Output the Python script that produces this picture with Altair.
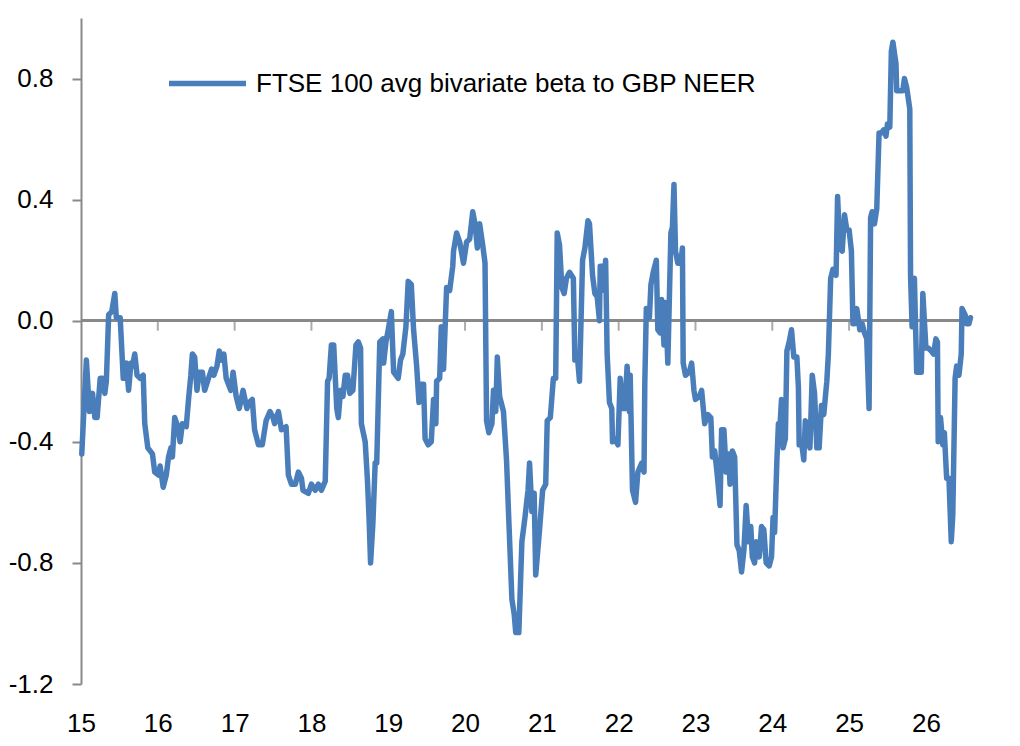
import altair as alt
import pandas as pd

# years since start of 2015 and beta values
t = [0.01,0.07,0.11,0.15,0.18,0.21,0.25,0.28,0.31,0.33,
     0.36,0.40,0.44,0.46,0.51,0.55,0.57,0.59,0.62,0.65,
     0.67,0.70,0.73,0.77,0.81,0.83,0.87,0.90,0.93,0.96,
     1.01,1.03,1.07,1.11,1.14,1.17,1.19,1.22,1.26,1.29,
     1.32,1.37,1.40,1.43,1.45,1.48,1.51,1.54,1.58,1.61,
     1.66,1.70,1.73,1.77,1.80,1.83,1.86,1.89,1.92,1.95,
     1.98,2.02,2.06,2.11,2.16,2.19,2.23,2.26,2.31,2.36,
     2.41,2.46,2.50,2.52,2.57,2.61,2.67,2.70,2.74,2.79,
     2.83,2.87,2.89,2.96,3.00,3.05,3.09,3.13,3.18,3.21,
     3.23,3.26,3.29,3.33,3.35,3.38,3.41,3.44,3.47,3.50,
     3.54,3.58,3.61,3.64,3.65,3.70,3.73,3.75,3.77,3.80,
     3.83,3.85,3.89,3.93,3.94,3.97,4.00,4.04,4.07,4.13,
     4.16,4.19,4.23,4.26,4.30,4.33,4.37,4.40,4.43,4.46,
     4.48,4.52,4.56,4.59,4.62,4.63,4.67,4.69,4.72,4.76,
     4.80,4.84,4.85,4.89,4.93,4.98,5.02,5.06,5.10,5.13,5.16,
     5.19,5.23,5.26,5.28,5.31,5.35,5.37,5.40,5.42,5.45,
     5.50,5.54,5.57,5.61,5.64,5.66,5.70,5.74,5.78,5.82,
     5.84,5.87,5.90,5.92,5.97,6.01,6.05,6.07,6.11,6.15,
     6.18,6.20,6.23,6.26,6.29,6.32,6.36,6.41,6.43,6.46,
     6.49,6.53,6.56,6.60,6.62,6.66,6.69,6.72,6.75,6.76,
     6.79,6.81,6.83,6.85,6.88,6.91,6.92,6.95,6.99,7.02,
     7.05,7.08,7.11,7.14,7.15,7.18,7.22,7.25,7.30,7.33,
     7.34,7.36,7.40,7.42,7.45,7.49,7.51,7.54,7.56,7.59,
     7.61,7.64,7.68,7.70,7.72,7.74,7.77,7.81,7.83,7.84,
     7.87,7.92,7.95,7.98,8.00,8.05,8.08,8.12,8.16,8.20,
     8.22,8.25,8.28,8.32,8.34,8.37,8.40,8.43,8.45,8.48,
     8.51,8.54,8.57,8.60,8.63,8.66,8.69,8.72,8.74,8.77,
     8.79,8.83,8.86,8.89,8.92,8.96,8.99,9.01,9.03,9.06,
     9.08,9.10,9.12,9.14,9.17,9.19,9.22,9.25,9.28,9.32,
     9.34,9.35,9.38,9.41,9.43,9.46,9.49,9.52,9.55,9.58,
     9.61,9.64,9.67,9.71,9.73,9.76,9.79,9.83,9.85,9.88,
     9.91,9.94,9.97,10.00,10.03,10.05,10.07,10.10,10.14,10.17,
     10.20,10.23,10.26,10.28,10.30,10.33,10.36,10.39,10.42,10.45,
     10.48,10.50,10.53,10.55,10.57,10.61,10.62,10.66,10.70,10.72,
     10.75,10.79,10.80,10.82,10.85,10.88,10.91,10.94,10.96,11.00,
     11.03,11.07,11.10,11.13,11.15,11.16,11.19,11.22,11.24,11.27,
     11.30,11.33,11.35,11.38,11.40,11.43,11.46,11.47,11.51,11.53,
     11.56,11.58]

beta = [-0.44,-0.13,-0.30,-0.24,-0.32,-0.32,-0.19,-0.19,-0.24,-0.20,
        0.02,0.03,0.09,0.01,0.01,-0.19,-0.19,-0.14,-0.23,-0.14,
        -0.15,-0.11,-0.18,-0.19,-0.18,-0.34,-0.42,-0.43,-0.44,-0.50,
        -0.51,-0.48,-0.55,-0.51,-0.45,-0.42,-0.45,-0.32,-0.35,-0.40,
        -0.34,-0.35,-0.26,-0.18,-0.11,-0.12,-0.23,-0.17,-0.17,-0.23,
        -0.19,-0.16,-0.18,-0.15,-0.10,-0.13,-0.11,-0.19,-0.21,-0.23,
        -0.17,-0.25,-0.29,-0.23,-0.29,-0.27,-0.26,-0.36,-0.41,-0.41,
        -0.33,-0.30,-0.32,-0.34,-0.30,-0.36,-0.35,-0.51,-0.54,-0.54,
        -0.50,-0.52,-0.56,-0.57,-0.54,-0.56,-0.54,-0.56,-0.53,-0.20,
        -0.19,-0.08,-0.08,-0.29,-0.32,-0.23,-0.25,-0.18,-0.18,-0.24,
        -0.23,-0.08,-0.07,-0.09,-0.34,-0.40,-0.53,-0.65,-0.80,-0.67,
        -0.47,-0.47,-0.07,-0.06,-0.14,-0.07,-0.03,0.03,-0.17,-0.19,
        -0.13,-0.11,-0.02,0.13,0.12,-0.03,-0.15,-0.27,-0.21,-0.21,
        -0.39,-0.41,-0.40,-0.26,-0.34,-0.20,-0.19,-0.02,-0.16,0.11,
        0.10,0.18,0.23,0.29,0.26,0.19,0.26,0.27,0.36,0.32,0.24,
        0.32,0.25,0.19,-0.33,-0.37,-0.34,-0.23,-0.30,-0.12,-0.25,
        -0.30,-0.46,-0.66,-0.92,-0.97,-1.03,-1.03,-0.73,-0.65,-0.56,
        -0.47,-0.63,-0.57,-0.84,-0.69,-0.56,-0.54,-0.33,-0.32,-0.19,
        -0.19,0.29,0.25,0.11,0.09,0.14,0.16,0.14,-0.13,-0.11,
        -0.20,0.20,0.24,0.33,0.32,0.15,0.09,0.08,0.00,0.18,
        0.18,0.10,0.20,-0.11,-0.27,-0.29,-0.40,-0.39,-0.41,-0.19,
        -0.29,-0.29,-0.15,-0.30,-0.18,-0.56,-0.60,-0.50,-0.47,-0.50,
        -0.21,0.04,0.01,0.12,0.16,0.20,-0.03,-0.04,0.07,-0.08,
        0.06,-0.14,0.29,0.31,0.45,0.23,0.19,0.19,0.24,-0.14,
        -0.18,-0.17,-0.14,-0.23,-0.26,-0.25,-0.23,-0.34,-0.31,-0.32,
        -0.45,-0.43,-0.50,-0.61,-0.36,-0.36,-0.50,-0.44,-0.54,-0.43,
        -0.45,-0.74,-0.76,-0.83,-0.76,-0.61,-0.73,-0.68,-0.78,-0.80,
        -0.73,-0.78,-0.68,-0.69,-0.80,-0.81,-0.78,-0.65,-0.70,-0.46,
        -0.34,-0.35,-0.26,-0.42,-0.39,-0.10,-0.07,-0.03,-0.12,-0.12,
        -0.22,-0.41,-0.40,-0.46,-0.33,-0.38,-0.42,-0.18,-0.24,-0.42,
        -0.42,-0.28,-0.31,-0.20,-0.11,0.14,0.17,0.15,0.41,0.24,
        0.23,0.35,0.30,0.30,0.23,-0.01,-0.01,0.04,-0.03,-0.01,
        -0.04,-0.06,-0.29,0.34,0.36,0.32,0.37,0.62,0.62,0.63,
        0.61,0.65,0.64,0.89,0.92,0.85,0.76,0.76,0.76,0.80,
        0.77,0.70,0.15,-0.02,0.14,-0.17,-0.17,-0.17,0.09,-0.09,
        -0.09,-0.10,-0.11,-0.06,-0.07,-0.40,-0.32,-0.41,-0.37,-0.52,
        -0.52,-0.73,-0.64,-0.19,-0.15,-0.18,-0.11,0.04,0.02,-0.01,
        -0.01,0.01]

assert len(t) == len(beta), (len(t), len(beta))

series_name = "FTSE 100 avg bivariate beta to GBP NEER"
year_ticks = list(range(2015, 2027))
y_ticks = [-1.2, -0.8, -0.4, 0.0, 0.4, 0.8]

df = pd.DataFrame({"year": [2015 + v for v in t], "beta": beta, "series": series_name})
ticks_df = pd.DataFrame({"year": year_ticks[1:]})

FONT = "Liberation Sans"
GREY = "#898989"
BLUE = "#4A7EBB"

xscale = alt.Scale(domain=[2015, 2026.6], nice=False, zero=False)
yscale = alt.Scale(domain=[-1.2, 1.0], nice=False, zero=False)

x_axis = alt.Axis(values=year_ticks, labelExpr="format(datum.value - 2000, 'd')",
                  domain=False, ticks=False, tickSize=0, grid=False, labelPadding=26,
                  labelFontSize=26, labelFont=FONT, labelColor="black", title=None,
                  labelFlush=False, labelOverlap=False)
y_axis = alt.Axis(values=y_ticks,
                  labelExpr="datum.value < 0 ? '-' + format(-datum.value, '.1f') : format(datum.value, '.1f')",
                  domainColor=GREY, domainWidth=2, tickColor=GREY, tickWidth=2, tickSize=9,
                  labelPadding=19, grid=False, labelFontSize=26, labelFont=FONT,
                  labelColor="black", title=None, labelFlush=False, labelOverlap=False)

zero = alt.Chart(df).mark_rule(color=GREY, strokeWidth=2).encode(
    y=alt.datum(0, scale=yscale, axis=y_axis))

yticks_on_zero = alt.Chart(ticks_df).mark_tick(
    orient="vertical", size=10, thickness=2, color=GREY, yOffset=5).encode(
    x=alt.X("year:Q", scale=xscale, axis=x_axis),
    y=alt.datum(0, scale=yscale))

line = alt.Chart(df).mark_line(strokeWidth=5.5, strokeJoin="round", strokeCap="round").encode(
    x=alt.X("year:Q", scale=xscale, axis=x_axis),
    y=alt.Y("beta:Q", scale=yscale, axis=y_axis),
    color=alt.Color("series:N", scale=alt.Scale(range=[BLUE]),
                    legend=alt.Legend(orient="none", legendX=85, legendY=24, title=None,
                                      symbolType="stroke", symbolSize=5929,
                                      symbolStrokeWidth=5.5, labelFontSize=26,
                                      labelFont=FONT, labelColor="black",
                                      labelOffset=7, labelLimit=0)),
)

chart = alt.layer(zero, yticks_on_zero, line).properties(
    width=891, height=666,
    padding={"left": 0, "top": 10, "right": 5, "bottom": 0},
).configure_view(stroke=None)

chart.save("out.html", embed_options={"renderer": "svg", "actions": False})
